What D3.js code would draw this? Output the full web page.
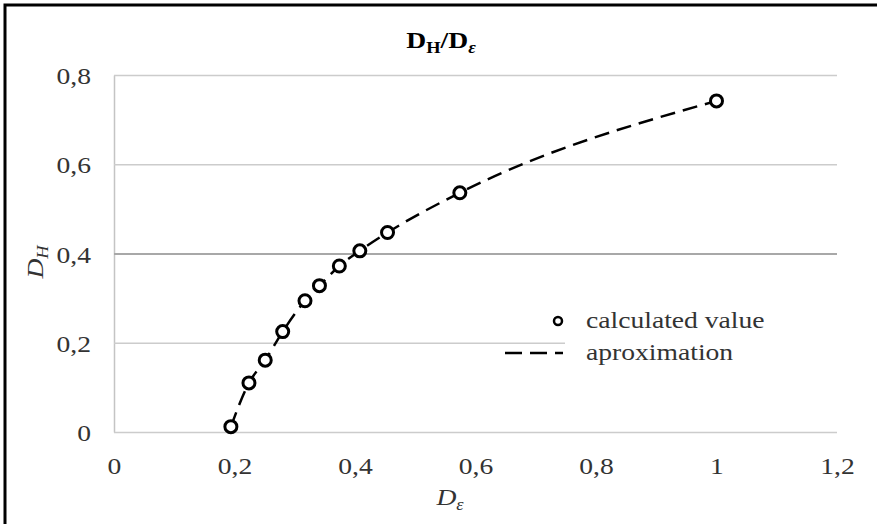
<!DOCTYPE html>
<html>
  <head>
    <script src="https://cdn.jsdelivr.net/npm/d3@7"></script>
    <style>
      body { margin: 0; background: #fff; }
      text { font-family: "Liberation Serif", "Times New Roman", serif; fill: #333; }
    </style>
  </head>
  <body>
    <svg id="chart" width="877" height="524"></svg>
    <script>
    // values
    var dEps = [0.194, 0.224, 0.251, 0.280, 0.317, 0.341, 0.374, 0.408, 0.454, 0.574, 1.0];
    var dH   = [0.012, 0.110, 0.161, 0.225, 0.294, 0.328, 0.372, 0.406, 0.447, 0.536, 0.742];
    var xTicks = [0, 0.2, 0.4, 0.6, 0.8, 1, 1.2];
    var yTicks = [0, 0.2, 0.4, 0.6, 0.8];
    var legendLabels = ["calculated value", "aproximation"];

    var svg = d3.select("#chart");
    var sx = 1.15; // picture text is a bit wider than Times

    var x = d3.scaleLinear().domain([0, 1.2]).range([114, 837]);
    var y = d3.scaleLinear().domain([0, 0.8]).range([432, 75]);
    var fmt = function(d){ return String(d).replace(".", ","); };

    // outer frame
    svg.append("rect")
      .attr("x", 5).attr("y", 5).attr("width", 900).attr("height", 600)
      .attr("fill", "#fff").attr("stroke", "#000").attr("stroke-width", 3);

    // y axis + grid
    var gy = svg.append("g").attr("transform", "translate(" + x(0) + ",0)")
      .call(d3.axisLeft(y).tickValues(yTicks).tickFormat(fmt)
        .tickSizeInner(-(x(1.2) - x(0))).tickSizeOuter(0));
    gy.select(".domain").attr("stroke", "#c4c4c4").attr("stroke-width", 1.5);
    gy.selectAll(".tick line")
      .attr("stroke", function(d){ return d === 0.4 ? "#a8a8a8" : "#cccccc"; })
      .attr("stroke-width", function(d){ return d === 0.4 ? 2 : 1.5; });
    gy.selectAll(".tick text")
      .attr("x", 0).attr("dy", "0.36em")
      .attr("transform", "translate(-23,0) scale(" + sx + ",1)")
      .style("font-size", "24px").style("font-family", null).attr("fill", "#333");

    // x axis labels
    var gx = svg.append("g").attr("transform", "translate(0," + y(0) + ")")
      .call(d3.axisBottom(x).tickValues(xTicks).tickFormat(fmt).tickSize(0).tickPadding(25));
    gx.select(".domain").remove();
    gx.selectAll(".tick text")
      .attr("transform", "scale(" + sx + ",1)")
      .style("font-size", "24px").style("font-family", null).attr("fill", "#333");

    // legend box covers the grid under it
    svg.append("rect").attr("x", 565).attr("y", 303).attr("width", 272).attr("height", 72)
      .attr("fill", "#fff");

    // approximation curve
    var pts = d3.zip(dEps, dH);
    svg.append("path")
      .datum(pts)
      .attr("d", d3.line().x(function(d){ return x(d[0]); }).y(function(d){ return y(d[1]); })
        .curve(d3.curveMonotoneX))
      .attr("fill", "none").attr("stroke", "#000").attr("stroke-width", 2.5)
      .attr("stroke-dasharray", "15,8");

    svg.selectAll("circle.pt")
      .data(pts).enter().append("circle").attr("class", "pt")
      .attr("cx", function(d){ return x(d[0]); })
      .attr("cy", function(d){ return y(d[1]); })
      .attr("r", 6).attr("fill", "#fff").attr("stroke", "#000").attr("stroke-width", 3);

    // title
    var title = svg.append("text")
      .attr("transform", "translate(441,48) scale(" + sx + ",1)")
      .attr("text-anchor", "middle").style("font-size", "24px").style("font-weight", "bold")
      .style("fill", "#000");
    title.append("tspan").text("D");
    title.append("tspan").attr("dy", 5).style("font-size", "16px").text("H");
    title.append("tspan").attr("dy", -5).text("/D");
    title.append("tspan").attr("dy", 5).style("font-size", "16px").style("font-style", "italic").text("ε");

    // axis titles
    var xt = svg.append("text")
      .attr("transform", "translate(450,505) scale(" + sx + ",1)")
      .attr("text-anchor", "middle").style("font-size", "24px").style("font-style", "italic");
    xt.append("tspan").text("D");
    xt.append("tspan").attr("dy", 5).style("font-size", "16px").text("ε");

    var yt = svg.append("text")
      .attr("transform", "translate(43,262) rotate(-90) scale(" + sx + ",1)")
      .attr("text-anchor", "middle").style("font-size", "24px").style("font-style", "italic");
    yt.append("tspan").text("D");
    yt.append("tspan").attr("dy", 5).style("font-size", "16px").text("H");

    // legend
    svg.append("circle").attr("cx", 558).attr("cy", 321).attr("r", 4)
      .attr("fill", "#fff").attr("stroke", "#000").attr("stroke-width", 2.5);
    svg.append("line").attr("x1", 505).attr("x2", 563).attr("y1", 353).attr("y2", 353)
      .attr("stroke", "#000").attr("stroke-width", 2.5).attr("stroke-dasharray", "17,8");
    svg.selectAll("text.leg")
      .data(legendLabels).enter().append("text").attr("class", "leg")
      .attr("transform", function(d, i){ return "translate(586," + (328 + i * 32) + ") scale(" + sx + ",1)"; })
      .style("font-size", "24px")
      .text(function(d){ return d; });
    </script>
  </body>
</html>
